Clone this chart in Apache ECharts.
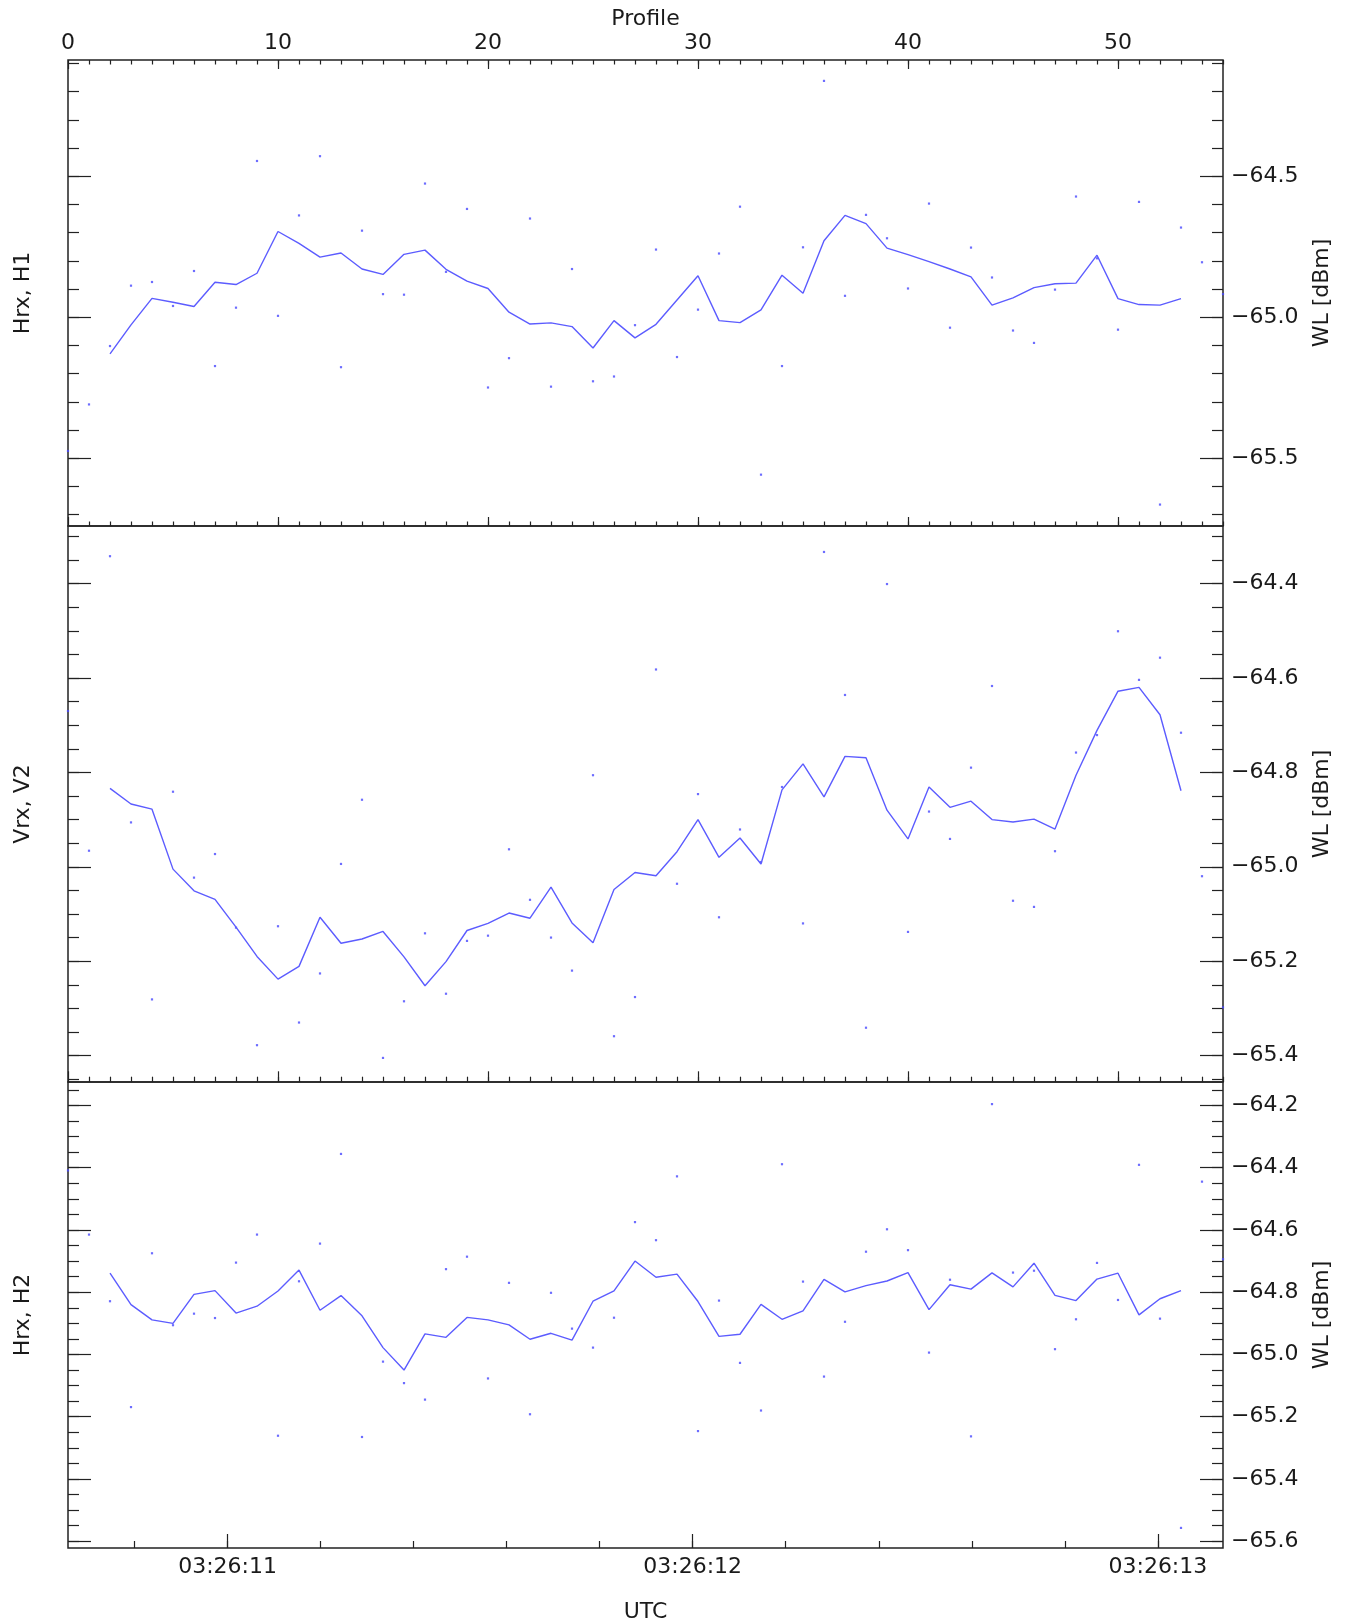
<!DOCTYPE html>
<html>
<head>
<meta charset="utf-8">
<script src="https://cdn.jsdelivr.net/npm/echarts@6/dist/echarts.min.js"></script>
<style>
  html, body { margin: 0; padding: 0; background: #fff; }
  #chart { width: 1351px; height: 1622px; }
</style>
</head>
<body>
<div id="chart"></div>
<script>
// profile numbers of the single measurements
var profiles = [0, 1, 2, 3, 4, 5, 6, 7, 8, 9, 10, 11, 12, 13, 14, 15, 16, 17, 18, 19,
  20, 21, 22, 23, 24, 25, 26, 27, 28, 29, 30, 31, 32, 33, 34, 35, 36, 37, 38, 39,
  40, 41, 42, 43, 44, 45, 46, 47, 48, 49, 50, 51, 52, 53, 54, 55]
// the smoothed curve covers profiles 2..53
var lineProfiles = profiles.slice(2, 54)

// Hrx, H1
var h1Dots = [-65.474, -65.309, -65.102, -64.888, -64.875, -64.960, -64.836, -65.173, -64.966, -64.446,
  -64.995, -64.639, -64.429, -65.177, -64.693, -64.918, -64.920, -64.526, -64.839, -64.616,
  -65.249, -65.145, -64.650, -65.246, -64.829, -65.227, -65.210, -65.028, -64.760, -65.141,
  -64.973, -64.774, -64.608, -65.558, -65.173, -64.752, -64.162, -64.924, -64.637, -64.720,
  -64.898, -64.597, -65.037, -64.753, -64.859, -65.047, -65.091, -64.902, -64.572, -64.791,
  -65.044, -64.591, -65.664, -64.682, -64.805, -64.918]
var h1Line = [-65.130, -65.027, -64.933, -64.947, -64.962, -64.876, -64.884, -64.844, -64.696, -64.738,
  -64.787, -64.772, -64.829, -64.848, -64.777, -64.762, -64.830, -64.872, -64.898, -64.982,
  -65.024, -65.020, -65.033, -65.109, -65.012, -65.073, -65.025, -64.939, -64.853, -65.012,
  -65.019, -64.974, -64.851, -64.915, -64.729, -64.639, -64.668, -64.755, -64.778, -64.803,
  -64.829, -64.857, -64.957, -64.931, -64.895, -64.881, -64.879, -64.780, -64.934, -64.955,
  -64.957, -64.934]
var h1Ticks = [-64.5, -65.0, -65.5]

// Vrx, V2
var v2Dots = [-64.670, -64.966, -64.342, -64.906, -65.281, -64.841, -65.023, -64.973, -65.129, -65.378,
  -65.126, -65.330, -65.226, -64.994, -64.858, -65.405, -65.285, -65.141, -65.269, -65.157,
  -65.146, -64.963, -65.070, -65.150, -65.220, -64.806, -65.359, -65.276, -64.582, -65.036,
  -64.846, -65.107, -64.921, -64.990, -64.831, -65.120, -64.333, -64.636, -65.341, -64.401,
  -65.138, -64.883, -64.941, -64.790, -64.617, -65.072, -65.085, -64.967, -64.758, -64.721,
  -64.501, -64.604, -64.557, -64.716, -65.020, -65.298]
var v2Line = [-64.834, -64.867, -64.878, -65.005, -65.051, -65.069, -65.128, -65.190, -65.238, -65.211,
  -65.107, -65.162, -65.153, -65.137, -65.191, -65.252, -65.201, -65.135, -65.120, -65.098,
  -65.109, -65.043, -65.119, -65.161, -65.048, -65.012, -65.019, -64.968, -64.900, -64.980,
  -64.939, -64.994, -64.837, -64.782, -64.852, -64.766, -64.769, -64.880, -64.941, -64.831,
  -64.874, -64.861, -64.900, -64.905, -64.899, -64.920, -64.806, -64.711, -64.628, -64.620,
  -64.678, -64.839]
var v2Ticks = [-64.4, -64.6, -64.8, -65.0, -65.2, -65.4]

// Hrx, H2
var h2Dots = [-64.409, -64.615, -64.829, -65.169, -64.675, -64.906, -64.869, -64.883, -64.705, -64.615,
  -65.261, -64.765, -64.644, -64.356, -65.265, -65.023, -65.092, -65.145, -64.726, -64.686,
  -65.077, -64.770, -65.192, -64.802, -64.917, -64.978, -64.882, -64.575, -64.633, -64.428,
  -65.246, -64.827, -65.027, -65.180, -64.389, -64.766, -65.071, -64.895, -64.670, -64.598,
  -64.665, -64.994, -64.760, -65.263, -64.196, -64.737, -64.731, -64.983, -64.887, -64.706,
  -64.825, -64.391, -64.885, -65.557, -64.445, -64.694]
var h2Line = [-64.739, -64.840, -64.889, -64.900, -64.807, -64.795, -64.867, -64.845, -64.796, -64.729,
  -64.858, -64.811, -64.876, -64.978, -65.050, -64.934, -64.945, -64.881, -64.889, -64.905,
  -64.951, -64.932, -64.954, -64.829, -64.796, -64.700, -64.752, -64.742, -64.830, -64.942,
  -64.935, -64.839, -64.887, -64.860, -64.759, -64.799, -64.779, -64.764, -64.737, -64.856,
  -64.776, -64.790, -64.738, -64.783, -64.707, -64.810, -64.827, -64.758, -64.739, -64.873,
  -64.821, -64.795]
var h2Ticks = [-64.2, -64.4, -64.6, -64.8, -65.0, -65.2, -65.4, -65.6]

// top axis (profile) and bottom axis (seconds after 03:26:00)
var profileTicks = [0, 10, 20, 30, 40, 50]
var utcTicks = [11, 12, 13]

var FONT = 'DejaVu Sans'
var INK = '#1a1a1a'
var LINE_COLOR = '#5c5cff'
var DOT_COLOR = '#4848ff'

function steps(from, to, step) {
  var out = []
  var n = Math.round((to - from) / step)
  for (var k = 0; k <= n; k++) out.push(Math.round((from + k * step) * 1000) / 1000)
  return out
}

var panels = [
  { name: 'Hrx, H1', top: 60, height: 466, min: -65.740, max: -64.088,
    majors: h1Ticks, minors: steps(-65.7, -64.1, 0.1), dots: h1Dots, line: h1Line },
  { name: 'Vrx, V2', top: 526, height: 556, min: -65.456, max: -64.278,
    majors: v2Ticks, minors: steps(-65.45, -64.3, 0.05), dots: v2Dots, line: v2Line },
  { name: 'Hrx, H2', top: 1082, height: 466, min: -65.6215, max: -64.125,
    majors: h2Ticks, minors: steps(-65.6, -64.15, 0.05), dots: h2Dots, line: h2Line }
]

var grids = []
var xAxes = []
var yAxes = []
var series = []

function tickAxis(base, pos, len, values, extra) {
  var a = Object.assign({}, base, {
    position: pos,
    axisLine: { show: false, onZero: false },
    splitLine: { show: false },
    axisTick: { show: true, inside: true, length: len, customValues: values,
      lineStyle: { color: '#222', width: 1.2 } },
    axisLabel: { show: false }
  })
  return Object.assign(a, extra || {})
}

var labelStyle = { fontFamily: FONT, fontSize: 22, color: INK }

panels.forEach(function (p, i) {
  grids.push({
    left: 68, right: 128, top: p.top, height: p.height,
    show: true, borderColor: '#222', borderWidth: 1.5, backgroundColor: 'transparent',
    containLabel: false, outerBoundsMode: 'none'
  })

  var xBase = { gridIndex: i, type: 'value', min: 0, max: 55 }
  var dataX = xAxes.length
  xAxes.push(Object.assign({}, xBase, { show: false, axisLine: { onZero: false } }))

  var minorLen = p.height > 500 ? 5.3 : 4.5
  var majorLen = p.height > 500 ? 10.7 : 9
  if (i < 2) {
    xAxes.push(tickAxis(xBase, 'bottom', minorLen, profiles.slice(1)))
    xAxes.push(tickAxis(xBase, 'bottom', majorLen, profileTicks))
  }
  if (i === 0) {
    xAxes.push(tickAxis(xBase, 'top', minorLen, profiles.slice(1)))
    xAxes.push(tickAxis(xBase, 'top', majorLen, profileTicks, {
      axisLabel: Object.assign({ show: true, customValues: profileTicks, margin: 6 }, labelStyle),
      name: 'Profile', nameLocation: 'middle', nameGap: 30,
      nameTextStyle: labelStyle
    }))
  }
  if (i === 2) {
    var tBase = { gridIndex: i, type: 'value', min: 10.657, max: 13.140 }
    xAxes.push(tickAxis(tBase, 'bottom', 7, steps(10.8, 13.0, 0.2)))
    xAxes.push(tickAxis(tBase, 'bottom', 14, utcTicks, {
      axisLabel: Object.assign({
        show: true, customValues: utcTicks, margin: 8,
        formatter: function (v) { return '03:26:' + Math.round(v) }
      }, labelStyle),
      name: 'UTC', nameLocation: 'middle', nameGap: 53,
      nameTextStyle: labelStyle
    }))
  }

  var yBase = { gridIndex: i, type: 'value', min: p.min, max: p.max }
  var dataY = yAxes.length
  yAxes.push(tickAxis(yBase, 'right', 11, p.minors))
  yAxes.push(tickAxis(yBase, 'right', 23, p.majors, {
    axisLabel: Object.assign({
      show: true, customValues: p.majors, margin: 8,
      formatter: function (v) { return '\u2212' + Math.abs(v).toFixed(1) }
    }, labelStyle),
    name: 'WL [dBm]', nameLocation: 'middle', nameRotate: 90, nameGap: 88,
    nameTextStyle: labelStyle
  }))
  yAxes.push(tickAxis(yBase, 'left', 11, p.minors))
  yAxes.push(tickAxis(yBase, 'left', 23, p.majors, {
    name: p.name, nameLocation: 'middle', nameRotate: 90, nameGap: 34,
    nameTextStyle: labelStyle
  }))

  series.push({
    type: 'scatter', xAxisIndex: dataX, yAxisIndex: dataY,
    symbol: 'rect', symbolSize: 2.2, silent: true,
    itemStyle: { color: DOT_COLOR },
    data: profiles.map(function (x, k) { return [x, p.dots[k]] })
  })
  series.push({
    type: 'line', xAxisIndex: dataX, yAxisIndex: dataY,
    showSymbol: false, silent: true,
    lineStyle: { color: LINE_COLOR, width: 1.4 },
    data: lineProfiles.map(function (x, k) { return [x, p.line[k]] })
  })
})

var chart = echarts.init(document.getElementById('chart'), null, { renderer: 'canvas' })
chart.setOption({
  animation: false,
  backgroundColor: '#fff',
  grid: grids,
  xAxis: xAxes,
  yAxis: yAxes,
  series: series
})
</script>
</body>
</html>
